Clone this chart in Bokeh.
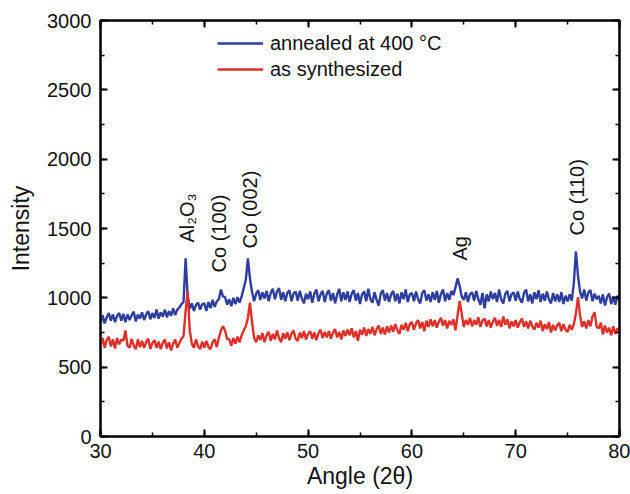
import math
import numpy as np
from bokeh.plotting import figure
from bokeh.models import (Range1d, SingleIntervalTicker, LinearAxis, Label,
                          Legend, LegendItem, CustomJSTickFormatter)
from bokeh.embed import file_html
from bokeh.resources import INLINE

FONT = "Liberation Sans"

# sampling grid of the diffractogram (2theta, degrees)
angle = np.round(np.arange(30.0, 80.0001, 0.2), 1)

annealed = [
    820, 875, 815, 860, 890, 835, 880, 825, 870, 890,
    835, 885, 825, 880, 840, 875, 900, 830, 880, 850,
    895, 840, 880, 905, 845, 890, 855, 915, 850, 895,
    865, 915, 860, 905, 870, 925, 875, 915, 930, 955,
    970, 1285, 1010, 920, 960, 905, 950, 965, 915, 955,
    960, 905, 970, 925, 985, 935, 975, 990, 1060, 1010,
    1005, 950, 990, 940, 1000, 955, 1005, 965, 1010, 1070,
    1130, 1285, 1140, 1040, 975, 1030, 1055, 985, 1040, 995,
    1050, 975, 1035, 1065, 990, 1045, 1070, 985, 1040, 975,
    1035, 1055, 975, 1030, 1045, 980, 1050, 995, 960, 1030,
    990, 1045, 965, 1030, 1060, 975, 1025, 1050, 970, 1030,
    1055, 980, 1035, 960, 1025, 1065, 975, 1040, 985, 1045,
    970, 1030, 1055, 980, 1035, 955, 1025, 1045, 975, 1065,
    990, 965, 1040, 985, 945, 1030, 1055, 980, 1035, 970,
    1025, 1050, 975, 1030, 960, 1040, 990, 1060, 970, 1025,
    1035, 975, 1045, 990, 960, 1035, 1055, 980, 1025, 970,
    1040, 985, 1050, 965, 1030, 1060, 975, 1035, 985, 1050,
    1020, 1075, 1140, 1085, 1010, 985, 1040, 970, 1025, 1040,
    980, 1050, 990, 950, 1035, 925, 1025, 975, 1045, 990,
    1035, 970, 1060, 990, 960, 1030, 1050, 975, 1025, 1040,
    980, 1045, 990, 965, 1035, 1060, 975, 1025, 960, 1040,
    990, 1055, 970, 1030, 980, 1045, 990, 960, 1035, 975,
    1025, 970, 1040, 955, 1015, 975, 1025, 980, 1105, 1335,
    1160, 1045, 995, 1060, 980, 1040, 1055, 975, 1030, 990,
    1015, 960, 1025, 945, 1005, 1030, 955, 1010, 950, 1015,
    975,
]

synthesized = [
    660, 710, 640, 695, 720, 650, 700, 635, 710, 665,
    700, 690, 765, 655, 640, 705, 655, 630, 700, 645,
    690, 640, 680, 705, 630, 675, 695, 640, 685, 630,
    675, 700, 635, 680, 620, 670, 700, 640, 675, 705,
    725, 905, 1045, 765, 670, 640, 700, 650, 630, 685,
    640, 690, 645, 630, 680, 700, 645, 710, 765, 795,
    765, 705, 700, 655, 710, 670, 720, 680, 730, 765,
    795, 855, 965, 825, 710, 680, 730, 695, 745, 680,
    730, 755, 690, 740, 700, 765, 710, 680, 745, 705,
    750, 695, 740, 765, 705, 690, 750, 710, 760, 700,
    740, 760, 705, 750, 695, 745, 770, 710, 755, 715,
    760, 705, 750, 775, 715, 755, 700, 765, 725, 770,
    730, 780, 715, 760, 690, 770, 735, 785, 725, 775,
    740, 790, 730, 775, 800, 740, 785, 735, 795, 750,
    800, 755, 810, 765, 740, 805, 770, 820, 760, 810,
    825, 770, 815, 840, 780, 825, 760, 835, 790, 845,
    795, 840, 785, 830, 855, 800, 840, 780, 835, 805,
    845, 765, 875, 975, 885, 790, 840, 805, 855, 795,
    840, 805, 860, 790, 835, 850, 795, 840, 785, 830,
    855, 800, 840, 790, 865, 805, 845, 780, 830, 795,
    840, 785, 825, 850, 790, 830, 780, 835, 795, 770,
    820, 785, 835, 760, 810, 775, 825, 750, 805, 765,
    800, 820, 760, 810, 770, 755, 805, 770, 810, 885,
    1005, 875, 790, 830, 780, 840, 795, 865, 895, 790,
    780, 820, 735, 800, 750, 785, 730, 795, 740, 780,
    755,
]

series_labels = ["annealed at 400 \u00b0C", "as synthesized"]
series_colors = ["#2E3E9E", "#DE3028"]

peak_labels = ["Al\u2082O\u2083", "Co (100)", "Co (002)", "Ag", "Co (110)"]
peak_x = [38.3, 41.37, 44.45, 64.6, 75.95]
peak_y = [1399, 1183, 1356, 1269, 1450]

x_title = "Angle (2\u03b8)"
y_title = "Intensity"

p = figure(width=630, height=494, x_range=Range1d(30, 80), y_range=Range1d(0, 3000),
           output_backend="svg", toolbar_location=None,
           min_border_left=100, min_border_right=11, min_border_top=20, min_border_bottom=58)
p.background_fill_color = "white"
p.border_fill_color = "white"
p.grid.visible = False
p.outline_line_color = "black"
p.outline_line_width = 2

xt = SingleIntervalTicker(interval=10, num_minor_ticks=2)
yt = SingleIntervalTicker(interval=500, num_minor_ticks=2)

for ax, t in ((p.xaxis[0], xt), (p.yaxis[0], yt)):
    ax.ticker = t
    ax.axis_line_width = 2
    ax.axis_line_color = "black"
    ax.major_tick_in = 7
    ax.major_tick_out = 0
    ax.minor_tick_in = 4
    ax.minor_tick_out = 0
    ax.major_tick_line_width = 2
    ax.minor_tick_line_width = 1.5
    ax.major_tick_line_color = "black"
    ax.minor_tick_line_color = "black"
    ax.major_label_text_font = FONT
    ax.major_label_text_font_size = "20px"
    ax.major_label_text_color = "#111111"

p.xaxis.major_label_standoff = 7
p.xaxis.axis_label = x_title
p.xaxis.axis_label_text_font = FONT
p.xaxis.axis_label_text_font_size = "23px"
p.xaxis.axis_label_text_font_style = "normal"
p.xaxis.axis_label_standoff = 2
p.xaxis.axis_label_text_color = "#111111"

p.yaxis.major_label_standoff = 9
p.yaxis.axis_label = y_title
p.yaxis.axis_label_text_font = FONT
p.yaxis.axis_label_text_font_size = "23px"
p.yaxis.axis_label_text_font_style = "normal"
p.yaxis.axis_label_standoff = 10
p.yaxis.axis_label_text_color = "#111111"

blank = CustomJSTickFormatter(code="return '';")
for loc, t in (("above", SingleIntervalTicker(interval=10, num_minor_ticks=2)),
               ("right", SingleIntervalTicker(interval=500, num_minor_ticks=2))):
    ax = LinearAxis(ticker=t, formatter=blank)
    ax.axis_line_width = 2
    ax.major_tick_in = 7
    ax.major_tick_out = 0
    ax.minor_tick_in = 4
    ax.minor_tick_out = 0
    ax.major_tick_line_width = 2
    ax.minor_tick_line_width = 1.5
    ax.major_label_standoff = 0
    ax.major_label_text_font_size = "1px"
    p.add_layout(ax, loc)

rb = p.line(angle, annealed, line_color=series_colors[0], line_width=2.4)
rr = p.line(angle, synthesized, line_color=series_colors[1], line_width=2.4)

legend = Legend(items=[LegendItem(label=series_labels[0], renderers=[rb]),
                       LegendItem(label=series_labels[1], renderers=[rr])],
                location=(117, 354), orientation="vertical")
legend.border_line_color = None
legend.background_fill_alpha = 0
legend.padding = 0
legend.margin = 0
legend.spacing = 0
legend.glyph_height = 26
legend.label_height = 26
legend.glyph_width = 46
legend.label_standoff = 7
legend.label_text_font = FONT
legend.label_text_font_size = "20px"
legend.label_text_color = "#111111"
p.add_layout(legend)

for txt, xx, yy in zip(peak_labels, peak_x, peak_y):
    p.add_layout(Label(x=xx, y=yy, text=txt, angle=math.pi / 2, text_align="left",
                       text_baseline="middle", text_font=FONT, text_font_size="20px",
                       text_color="#111111"))

open("out.html", "w").write(file_html(p, INLINE))
